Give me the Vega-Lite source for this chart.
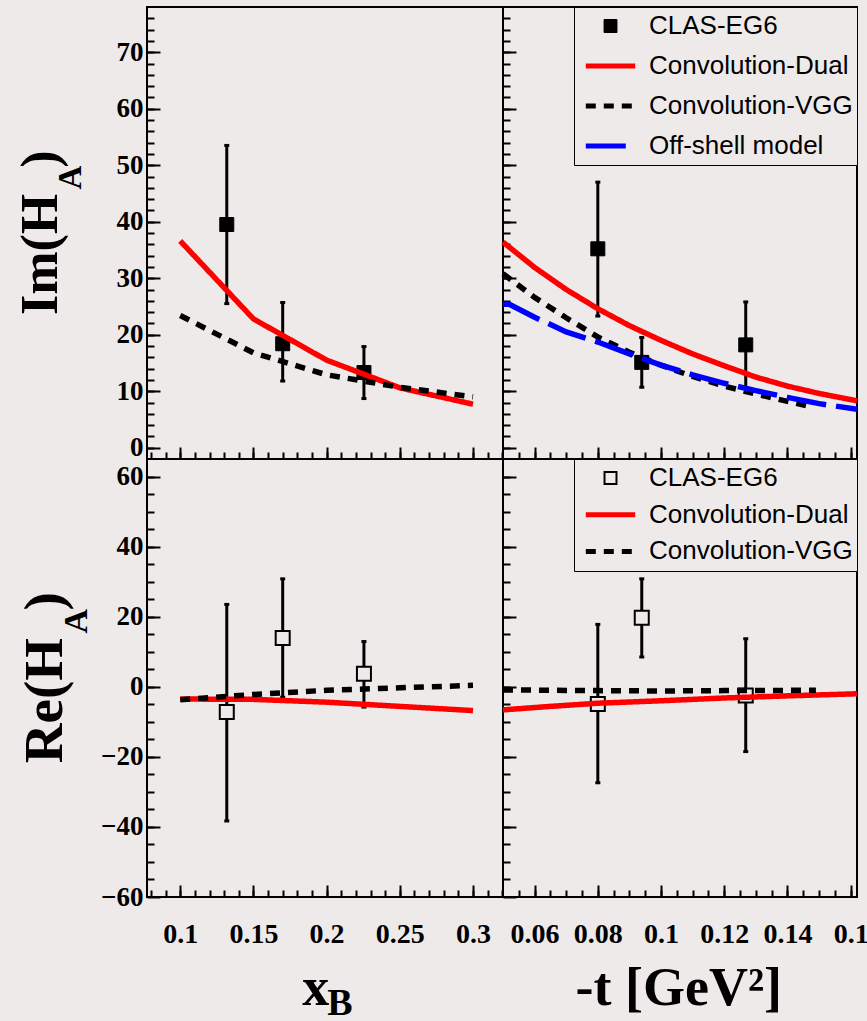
{
  "$schema": "https://vega.github.io/schema/vega-lite/v6.json",
  "background": "#efeaea",
  "padding": {"left": 13, "top": 5, "right": 0, "bottom": 0},
  "columns": 2,
  "spacing": 0,
  "bounds": "flush",
  "resolve": {"scale": {"stroke": "independent", "strokeDash": "independent"}},
  "config": {
    "view": {"stroke": "black", "strokeWidth": 2, "fill": "#efeaea"},
    "axis": {"domain": false, "grid": false, "tickColor": "black", "tickWidth": 2, "labelColor": "black", "labelFont": "Liberation Serif", "labelFontWeight": "bold", "labelFlush": false, "labelOverlap": false, "titleColor": "black", "titleFont": "Liberation Serif", "titleFontWeight": "bold"}
  },
  "concat": [
    {
      "width": 356, "height": 452,
      "resolve": {"axis": {"x": "independent", "y": "independent"}},
      "data": {"values": [
        {"x": 0.1318, "y": 39.5, "lo": 25.5, "hi": 53.5, "series": "CLAS-EG6"},
        {"x": 0.170, "y": 18.4, "lo": 11.8, "hi": 25.7, "series": "CLAS-EG6"},
        {"x": 0.2255, "y": 13.3, "lo": 8.7, "hi": 17.9, "series": "CLAS-EG6"}
      ]},
      "layer": [
        {
          "mark": {"type": "rule", "color": "black", "strokeWidth": 3},
          "encoding": {
            "x": {"field": "x", "type": "quantitative", "scale": {"domain": [0.0773, 0.3205], "nice": false, "zero": false},
              "axis": {"orient": "bottom", "values": [0.08,0.09,0.10,0.11,0.12,0.13,0.14,0.15,0.16,0.17,0.18,0.19,0.20,0.21,0.22,0.23,0.24,0.25,0.26,0.27,0.28,0.29,0.30,0.31,0.32], "tickSize": -7, "labels": false, "title": null}},
            "y": {"field": "lo", "type": "quantitative", "scale": {"domain": [-2, 78], "nice": false, "zero": false},
              "axis": {"orient": "left", "values": [0,2,4,6,8,10,12,14,16,18,20,22,24,26,28,30,32,34,36,38,40,42,44,46,48,50,52,54,56,58,60,62,64,66,68,70,72,74,76], "tickSize": -7, "labels": false,
                "title": "A", "titleFontSize": 33, "titleAngle": 270, "titleAlign": "left", "titleBaseline": "alphabetic", "titleX": -67, "titleY": 182}},
            "y2": {"field": "hi"}
          }
        },
        {
          "mark": {"type": "tick", "orient": "horizontal", "size": 5, "thickness": 3, "color": "black", "opacity": 1},
          "encoding": {"x": {"field": "x", "type": "quantitative", "axis": null}, "y": {"field": "lo", "type": "quantitative", "axis": null}}
        },
        {
          "mark": {"type": "tick", "orient": "horizontal", "size": 5, "thickness": 3, "color": "black", "opacity": 1},
          "encoding": {"x": {"field": "x", "type": "quantitative", "axis": null}, "y": {"field": "hi", "type": "quantitative", "axis": null}}
        },
        {
          "mark": {"type": "point", "shape": "square", "filled": true, "fill": "black", "stroke": "black", "size": 196, "opacity": 1, "strokeWidth": 1},
          "encoding": {
            "x": {"field": "x", "type": "quantitative",
              "axis": {"orient": "bottom", "values": [0.1, 0.15, 0.2, 0.25, 0.3], "tickSize": -12, "labels": false, "title": null}},
            "y": {"field": "y", "type": "quantitative",
              "axis": {"orient": "left", "values": [0,10,20,30,40,50,60,70], "tickSize": -13, "labelPadding": 17, "labelFontSize": 27,
                "title": "Im(H\u00a0\u00a0)", "titleFontSize": 52, "titleAngle": 270, "titleAlign": "left", "titleBaseline": "alphabetic", "titleX": -91, "titleY": 307.5}}
          }
        },
        {
          "data": {"values": [
            {"x": 0.10, "y": 36.6, "series": "Convolution-Dual"},
            {"x": 0.15, "y": 22.8, "series": "Convolution-Dual"},
            {"x": 0.20, "y": 15.5, "series": "Convolution-Dual"},
            {"x": 0.25, "y": 10.6, "series": "Convolution-Dual"},
            {"x": 0.30, "y": 7.7, "series": "Convolution-Dual"},
            {"x": 0.10, "y": 23.4, "series": "Convolution-VGG"},
            {"x": 0.15, "y": 16.8, "series": "Convolution-VGG"},
            {"x": 0.20, "y": 12.9, "series": "Convolution-VGG"},
            {"x": 0.25, "y": 10.7, "series": "Convolution-VGG"},
            {"x": 0.30, "y": 9.0, "series": "Convolution-VGG"}
          ]},
          "mark": {"type": "line", "strokeWidth": 5.5},
          "encoding": {
            "x": {"field": "x", "type": "quantitative", "axis": null},
            "y": {"field": "y", "type": "quantitative", "axis": null},
            "stroke": {"field": "series", "type": "nominal", "scale": {"domain": ["CLAS-EG6", "Convolution-Dual", "Convolution-VGG"], "range": ["black", "red", "black"]}, "legend": null},
            "strokeDash": {"field": "series", "type": "nominal", "scale": {"domain": ["Convolution-Dual", "Convolution-VGG", "Off-shell model"], "range": [[1, 0], [10, 8], [40, 10]]}, "legend": null}
          }
        }
      ]
    },
    {
      "width": 354, "height": 452,
      "resolve": {"axis": {"x": "independent", "y": "independent"}},
      "data": {"values": [
        {"x": 0.08, "y": 35.2, "lo": 23.3, "hi": 47.0, "series": "CLAS-EG6"},
        {"x": 0.0939, "y": 15.1, "lo": 10.7, "hi": 19.5, "series": "CLAS-EG6"},
        {"x": 0.1268, "y": 18.2, "lo": 10.6, "hi": 25.8, "series": "CLAS-EG6"}
      ]},
      "layer": [
        {
          "mark": {"type": "rule", "color": "black", "strokeWidth": 3},
          "encoding": {
            "x": {"field": "x", "type": "quantitative", "scale": {"domain": [0.05, 0.162], "nice": false, "zero": false},
              "axis": {"orient": "bottom", "values": [0.055,0.06,0.065,0.07,0.075,0.08,0.085,0.09,0.095,0.10,0.105,0.11,0.115,0.12,0.125,0.13,0.135,0.14,0.145,0.15,0.155,0.16], "tickSize": -7, "labels": false, "title": null}},
            "y": {"field": "lo", "type": "quantitative", "scale": {"domain": [-2, 78], "nice": false, "zero": false},
              "axis": {"orient": "left", "values": [0,2,4,6,8,10,12,14,16,18,20,22,24,26,28,30,32,34,36,38,40,42,44,46,48,50,52,54,56,58,60,62,64,66,68,70,72,74,76], "tickSize": -7, "labels": false, "title": null}},
            "y2": {"field": "hi"}
          }
        },
        {
          "mark": {"type": "tick", "orient": "horizontal", "size": 5, "thickness": 3, "color": "black", "opacity": 1},
          "encoding": {"x": {"field": "x", "type": "quantitative", "axis": null}, "y": {"field": "lo", "type": "quantitative", "axis": null}}
        },
        {
          "mark": {"type": "tick", "orient": "horizontal", "size": 5, "thickness": 3, "color": "black", "opacity": 1},
          "encoding": {"x": {"field": "x", "type": "quantitative", "axis": null}, "y": {"field": "hi", "type": "quantitative", "axis": null}}
        },
        {
          "mark": {"type": "point", "shape": "square", "filled": true, "fill": "black", "stroke": "black", "size": 196, "opacity": 1, "strokeWidth": 1},
          "encoding": {
            "x": {"field": "x", "type": "quantitative",
              "axis": {"orient": "bottom", "values": [0.06, 0.08, 0.10, 0.12, 0.14, 0.16], "tickSize": -12, "labels": false, "title": null}},
            "y": {"field": "y", "type": "quantitative",
              "axis": {"orient": "left", "values": [0,10,20,30,40,50,60,70], "tickSize": -13, "labels": false, "title": null}}
          }
        },
        {
          "data": {"values": [
            {"x": 0.05, "y": 36.4, "series": "Convolution-Dual"},
            {"x": 0.06, "y": 31.9, "series": "Convolution-Dual"},
            {"x": 0.07, "y": 28.0, "series": "Convolution-Dual"},
            {"x": 0.08, "y": 24.6, "series": "Convolution-Dual"},
            {"x": 0.09, "y": 21.6, "series": "Convolution-Dual"},
            {"x": 0.10, "y": 19.0, "series": "Convolution-Dual"},
            {"x": 0.11, "y": 16.6, "series": "Convolution-Dual"},
            {"x": 0.12, "y": 14.5, "series": "Convolution-Dual"},
            {"x": 0.13, "y": 12.5, "series": "Convolution-Dual"},
            {"x": 0.14, "y": 10.9, "series": "Convolution-Dual"},
            {"x": 0.15, "y": 9.6, "series": "Convolution-Dual"},
            {"x": 0.162, "y": 8.3, "series": "Convolution-Dual"},
            {"x": 0.05, "y": 30.8, "series": "Convolution-VGG"},
            {"x": 0.06, "y": 26.6, "series": "Convolution-VGG"},
            {"x": 0.07, "y": 23.0, "series": "Convolution-VGG"},
            {"x": 0.08, "y": 19.6, "series": "Convolution-VGG"},
            {"x": 0.09, "y": 16.9, "series": "Convolution-VGG"},
            {"x": 0.10, "y": 14.6, "series": "Convolution-VGG"},
            {"x": 0.11, "y": 12.6, "series": "Convolution-VGG"},
            {"x": 0.12, "y": 10.9, "series": "Convolution-VGG"},
            {"x": 0.13, "y": 9.5, "series": "Convolution-VGG"},
            {"x": 0.14, "y": 8.2, "series": "Convolution-VGG"},
            {"x": 0.148, "y": 7.2, "series": "Convolution-VGG"},
            {"x": 0.05, "y": 25.4, "series": "Off-shell model"},
            {"x": 0.052, "y": 25.4, "series": "Off-shell model"},
            {"x": 0.06, "y": 23.1, "series": "Off-shell model"},
            {"x": 0.07, "y": 20.5, "series": "Off-shell model"},
            {"x": 0.08, "y": 18.7, "series": "Off-shell model"},
            {"x": 0.09, "y": 16.6, "series": "Off-shell model"},
            {"x": 0.10, "y": 14.6, "series": "Off-shell model"},
            {"x": 0.11, "y": 12.9, "series": "Off-shell model"},
            {"x": 0.12, "y": 11.4, "series": "Off-shell model"},
            {"x": 0.13, "y": 10.1, "series": "Off-shell model"},
            {"x": 0.14, "y": 8.9, "series": "Off-shell model"},
            {"x": 0.15, "y": 7.8, "series": "Off-shell model"},
            {"x": 0.162, "y": 6.8, "series": "Off-shell model"}
          ]},
          "mark": {"type": "line", "strokeWidth": 5.5},
          "encoding": {
            "x": {"field": "x", "type": "quantitative", "axis": null},
            "y": {"field": "y", "type": "quantitative", "axis": null},
            "stroke": {"field": "series", "type": "nominal",
              "scale": {"domain": ["CLAS-EG6", "Convolution-Dual", "Convolution-VGG", "Off-shell model"], "range": ["black", "red", "black", "blue"]},
              "legend": {"title": null, "orient": "top-right", "offset": 0, "padding": 4, "rowPadding": 10, "clipHeight": 30, "columns": 1,
                "strokeColor": "black", "fillColor": "#efeaea", "cornerRadius": 0,
                "symbolSize": 676, "symbolOffset": 19.5,
                "symbolType": {"expr": "datum.value === 'CLAS-EG6' ? 'M-0.5,-0.5H0.5V0.5H-0.5Z' : 'M-1.9,0H1.9'"},
                "symbolStrokeWidth": {"expr": "datum.value === 'CLAS-EG6' ? 1 : 5"},
                "symbolFillColor": {"expr": "datum.value === 'CLAS-EG6' ? 'black' : 'transparent'"},
                "symbolDash": {"expr": "datum.value === 'Convolution-VGG' ? [10, 8] : datum.value === 'Off-shell model' ? [40, 10] : [1, 0]"},
                "labelFont": "Liberation Sans", "labelFontSize": 26, "labelColor": "black", "labelOffset": 25.5, "labelLimit": 400}},
            "strokeDash": {"field": "series", "type": "nominal", "scale": {"domain": ["Convolution-Dual", "Convolution-VGG", "Off-shell model"], "range": [[1, 0], [10, 8], [40, 10]]}, "legend": null}
          }
        }
      ]
    },
    {
      "width": 356, "height": 438,
      "resolve": {"axis": {"x": "independent", "y": "independent"}},
      "data": {"values": [
        {"x": 0.1318, "y": -7.2, "lo": -38.3, "hi": 23.5, "series": "CLAS-EG6"},
        {"x": 0.170, "y": 13.9, "lo": -3.0, "hi": 30.8, "series": "CLAS-EG6"},
        {"x": 0.2255, "y": 3.7, "lo": -5.8, "hi": 12.9, "series": "CLAS-EG6"}
      ]},
      "layer": [
        {
          "mark": {"type": "rule", "color": "black", "strokeWidth": 3},
          "encoding": {
            "x": {"field": "x", "type": "quantitative", "scale": {"domain": [0.0773, 0.3205], "nice": false, "zero": false},
              "axis": {"orient": "bottom", "values": [0.08,0.09,0.10,0.11,0.12,0.13,0.14,0.15,0.16,0.17,0.18,0.19,0.20,0.21,0.22,0.23,0.24,0.25,0.26,0.27,0.28,0.29,0.30,0.31,0.32], "tickSize": -7, "labels": false,
                "title": "B", "titleFontSize": 38, "titleAlign": "left", "titleBaseline": "alphabetic", "titleX": 179.7, "titleY": 117}},
            "y": {"field": "lo", "type": "quantitative", "scale": {"domain": [-60, 65], "nice": false, "zero": false},
              "axis": {"orient": "left", "values": [-55,-50,-45,-40,-35,-30,-25,-20,-15,-10,-5,0,5,10,15,20,25,30,35,40,45,50,55,60], "tickSize": -7, "labels": false,
                "title": "A", "titleFontSize": 34, "titleAngle": 270, "titleAlign": "left", "titleBaseline": "alphabetic", "titleX": -60.3, "titleY": 174}},
            "y2": {"field": "hi"}
          }
        },
        {
          "mark": {"type": "tick", "orient": "horizontal", "size": 5, "thickness": 3, "color": "black", "opacity": 1},
          "encoding": {"x": {"field": "x", "type": "quantitative", "axis": null}, "y": {"field": "lo", "type": "quantitative", "axis": null}}
        },
        {
          "mark": {"type": "tick", "orient": "horizontal", "size": 5, "thickness": 3, "color": "black", "opacity": 1},
          "encoding": {"x": {"field": "x", "type": "quantitative", "axis": null}, "y": {"field": "hi", "type": "quantitative", "axis": null}}
        },
        {
          "mark": {"type": "point", "shape": "square", "filled": true, "fill": "#efeaea", "stroke": "black", "size": 196, "opacity": 1, "strokeWidth": 2},
          "encoding": {
            "x": {"field": "x", "type": "quantitative",
              "axis": {"orient": "bottom", "values": [0.1, 0.15, 0.2, 0.25, 0.3], "tickSize": -12, "labelPadding": 57, "labelBaseline": "alphabetic", "labelFontSize": 28, "format": "~f",
                "title": "x", "titleFontSize": 54, "titleAlign": "left", "titleBaseline": "alphabetic", "titleX": 154.7, "titleY": 107.3}},
            "y": {"field": "y", "type": "quantitative",
              "axis": {"orient": "left", "values": [-60,-40,-20,0,20,40,60], "tickSize": -13, "labelPadding": 17, "labelFontSize": 27,
                "title": "Re(H\u00a0\u00a0)", "titleFontSize": 55, "titleAngle": 270, "titleAlign": "left", "titleBaseline": "alphabetic", "titleX": -85.3, "titleY": 303.7}}
          }
        },
        {
          "data": {"values": [
            {"x": 0.10, "y": -3.5, "series": "Convolution-Dual"},
            {"x": 0.15, "y": -3.6, "series": "Convolution-Dual"},
            {"x": 0.20, "y": -4.4, "series": "Convolution-Dual"},
            {"x": 0.25, "y": -5.6, "series": "Convolution-Dual"},
            {"x": 0.30, "y": -6.8, "series": "Convolution-Dual"},
            {"x": 0.10, "y": -3.7, "series": "Convolution-VGG"},
            {"x": 0.15, "y": -2.2, "series": "Convolution-VGG"},
            {"x": 0.20, "y": -1.0, "series": "Convolution-VGG"},
            {"x": 0.25, "y": -0.3, "series": "Convolution-VGG"},
            {"x": 0.30, "y": 0.4, "series": "Convolution-VGG"}
          ]},
          "mark": {"type": "line", "strokeWidth": 5.5},
          "encoding": {
            "x": {"field": "x", "type": "quantitative", "axis": null},
            "y": {"field": "y", "type": "quantitative", "axis": null},
            "stroke": {"field": "series", "type": "nominal", "scale": {"domain": ["CLAS-EG6", "Convolution-Dual", "Convolution-VGG"], "range": ["black", "red", "black"]}, "legend": null},
            "strokeDash": {"field": "series", "type": "nominal", "scale": {"domain": ["Convolution-Dual", "Convolution-VGG", "Off-shell model"], "range": [[1, 0], [10, 8], [40, 10]]}, "legend": null}
          }
        }
      ]
    },
    {
      "width": 354, "height": 438,
      "resolve": {"axis": {"x": "independent", "y": "independent"}},
      "data": {"values": [
        {"x": 0.08, "y": -4.9, "lo": -27.4, "hi": 17.8, "series": "CLAS-EG6"},
        {"x": 0.0939, "y": 19.7, "lo": 8.5, "hi": 30.8, "series": "CLAS-EG6"},
        {"x": 0.1268, "y": -2.5, "lo": -18.5, "hi": 13.7, "series": "CLAS-EG6"}
      ]},
      "layer": [
        {
          "mark": {"type": "rule", "color": "black", "strokeWidth": 3},
          "encoding": {
            "x": {"field": "x", "type": "quantitative", "scale": {"domain": [0.05, 0.162], "nice": false, "zero": false},
              "axis": {"orient": "bottom", "values": [0.055,0.06,0.065,0.07,0.075,0.08,0.085,0.09,0.095,0.10,0.105,0.11,0.115,0.12,0.125,0.13,0.135,0.14,0.145,0.15,0.155,0.16], "tickSize": -7, "labels": false, "title": null}},
            "y": {"field": "lo", "type": "quantitative", "scale": {"domain": [-60, 65], "nice": false, "zero": false},
              "axis": {"orient": "left", "values": [-55,-50,-45,-40,-35,-30,-25,-20,-15,-10,-5,0,5,10,15,20,25,30,35,40,45,50,55,60], "tickSize": -7, "labels": false, "title": null}},
            "y2": {"field": "hi"}
          }
        },
        {
          "mark": {"type": "tick", "orient": "horizontal", "size": 5, "thickness": 3, "color": "black", "opacity": 1},
          "encoding": {"x": {"field": "x", "type": "quantitative", "axis": null}, "y": {"field": "lo", "type": "quantitative", "axis": null}}
        },
        {
          "mark": {"type": "tick", "orient": "horizontal", "size": 5, "thickness": 3, "color": "black", "opacity": 1},
          "encoding": {"x": {"field": "x", "type": "quantitative", "axis": null}, "y": {"field": "hi", "type": "quantitative", "axis": null}}
        },
        {
          "mark": {"type": "point", "shape": "square", "filled": true, "fill": "#efeaea", "stroke": "black", "size": 196, "opacity": 1, "strokeWidth": 2},
          "encoding": {
            "x": {"field": "x", "type": "quantitative",
              "axis": {"orient": "bottom", "values": [0.06, 0.08, 0.10, 0.12, 0.14, 0.16], "tickSize": -12, "labelPadding": 57, "labelBaseline": "alphabetic", "labelFontSize": 28, "format": "~f",
                "labelExpr": "datum.value > 0.155 ? '0.1' : datum.label",
                "title": "-t [GeV\u00b2]", "titleFontSize": 54, "titleAlign": "left", "titleBaseline": "alphabetic", "titleX": 72, "titleY": 107}},
            "y": {"field": "y", "type": "quantitative",
              "axis": {"orient": "left", "values": [-60,-40,-20,0,20,40,60], "tickSize": -13, "labels": false, "title": null}}
          }
        },
        {
          "data": {"values": [
            {"x": 0.05, "y": -6.6, "series": "Convolution-Dual"},
            {"x": 0.065, "y": -5.6, "series": "Convolution-Dual"},
            {"x": 0.08, "y": -4.7, "series": "Convolution-Dual"},
            {"x": 0.10, "y": -4.0, "series": "Convolution-Dual"},
            {"x": 0.12, "y": -3.2, "series": "Convolution-Dual"},
            {"x": 0.14, "y": -2.6, "series": "Convolution-Dual"},
            {"x": 0.162, "y": -2.0, "series": "Convolution-Dual"},
            {"x": 0.05, "y": -0.9, "series": "Convolution-VGG"},
            {"x": 0.08, "y": -1.1, "series": "Convolution-VGG"},
            {"x": 0.10, "y": -1.2, "series": "Convolution-VGG"},
            {"x": 0.12, "y": -1.1, "series": "Convolution-VGG"},
            {"x": 0.149, "y": -1.0, "series": "Convolution-VGG"}
          ]},
          "mark": {"type": "line", "strokeWidth": 5.5},
          "encoding": {
            "x": {"field": "x", "type": "quantitative", "axis": null},
            "y": {"field": "y", "type": "quantitative", "axis": null},
            "stroke": {"field": "series", "type": "nominal",
              "scale": {"domain": ["CLAS-EG6", "Convolution-Dual", "Convolution-VGG"], "range": ["black", "red", "black"]},
              "legend": {"title": null, "orient": "top-right", "offset": 0, "padding": 4, "rowPadding": 6.7, "clipHeight": 30, "columns": 1,
                "strokeColor": "black", "fillColor": "#efeaea", "cornerRadius": 0,
                "symbolSize": 676, "symbolOffset": 19.5,
                "symbolType": {"expr": "datum.value === 'CLAS-EG6' ? 'M-0.46,-0.46H0.46V0.46H-0.46Z' : 'M-1.9,0H1.9'"},
                "symbolStrokeWidth": {"expr": "datum.value === 'CLAS-EG6' ? 2 : 5"},
                "symbolFillColor": {"expr": "datum.value === 'CLAS-EG6' ? '#efeaea' : 'transparent'"},
                "symbolDash": {"expr": "datum.value === 'Convolution-VGG' ? [10, 8] : [1, 0]"},
                "labelFont": "Liberation Sans", "labelFontSize": 26, "labelColor": "black", "labelOffset": 25.5, "labelLimit": 400}},
            "strokeDash": {"field": "series", "type": "nominal", "scale": {"domain": ["Convolution-Dual", "Convolution-VGG", "Off-shell model"], "range": [[1, 0], [10, 8], [40, 10]]}, "legend": null}
          }
        }
      ]
    }
  ]
}
